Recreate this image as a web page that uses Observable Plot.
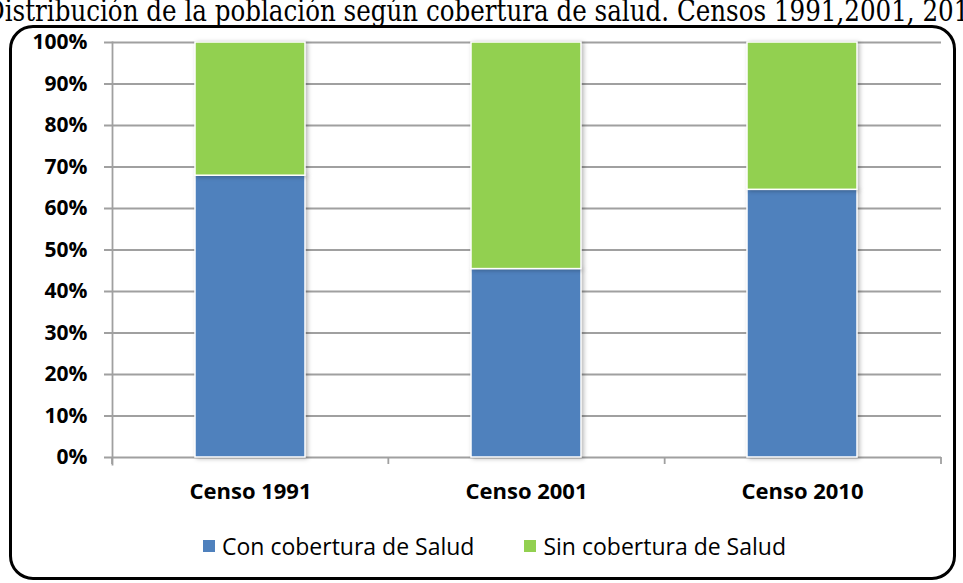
<!DOCTYPE html>
<html>
<head>
<meta charset="utf-8">
<script src="https://cdn.jsdelivr.net/npm/d3@7"></script>
<script src="https://cdn.jsdelivr.net/npm/@observablehq/plot@0.6"></script>
<style>
  html, body { margin: 0; padding: 0; background: #fff; overflow: hidden; }
  #wrap { position: relative; width: 963px; height: 583px; overflow: hidden; background: #fff; }
  #title { position: absolute; left: 0; top: 0; }
  #frame { position: absolute; left: 9px; top: 25px; width: 947px; height: 555px; box-sizing: border-box;
           border: 3px solid #000; border-radius: 24px; }
  #chart { position: absolute; left: 0; top: 0; }
  #legend { position: absolute; left: 0; top: 530px; width: 963px; display: flex; justify-content: center;
            font-family: "Open Sans", Lato, sans-serif; font-size: 23px; color: #000; gap: 50px; margin-left: 13px; }
  #legend .item { display: flex; align-items: center; }
  #legend .sw { width: 12px; height: 12px; margin-right: 7px; }
  .bars rect { filter: drop-shadow(2px 1px 2px rgba(0,0,0,0.28)); }
</style>
</head>
<body>
<div id="wrap">
  <svg id="title" width="963" height="32">
    <text id="titleText" x="-15" y="21" font-family="'DejaVu Serif', 'Liberation Serif', serif" font-size="29" fill="#000"
      textLength="1000" lengthAdjust="spacingAndGlyphs"></text>
  </svg>
  <div id="frame"></div>
  <div id="chart"></div>
  <div id="legend"></div>
</div>
<script>
const titleLabel = "Distribución de la población según cobertura de salud. Censos 1991,2001, 2010";
const censos = ["Censo 1991", "Censo 2001", "Censo 2010"];
const series = ["Con cobertura de Salud", "Sin cobertura de Salud"];
const conCobertura = [67.9, 45.4, 64.5];
const sinCobertura = [32.1, 54.6, 35.5];
const colors = ["#4F81BD", "#92D050"];
const yTicks = [0, 10, 20, 30, 40, 50, 60, 70, 80, 90, 100];

document.getElementById("titleText").textContent = titleLabel;

const data = [];
censos.forEach((c, i) => {
  data.push({censo: c, serie: series[0], value: conCobertura[i]});
  data.push({censo: c, serie: series[1], value: sinCobertura[i]});
});

const grid = "#a0a0a0";
const W = 963, H = 510, ML = 112, MR = 22, MT = 42, MB = 53;

const chart = Plot.plot({
  width: W,
  height: H,
  marginLeft: ML,
  marginRight: MR,
  marginTop: MT,
  marginBottom: MB,
  style: {background: "transparent", fontFamily: "'Open Sans', Lato, sans-serif", color: "#000", overflow: "visible"},
  x: {domain: censos, paddingInner: 0.6, paddingOuter: 0.3, label: null},
  y: {domain: [0, 100], label: null},
  color: {domain: series, range: colors},
  marks: [
    Plot.ruleY(yTicks, {y: d => d, stroke: grid, strokeWidth: 1.8, insetLeft: -8}),
    Plot.frame({anchor: "left", stroke: grid, strokeWidth: 1.8, insetBottom: -7}),
    // tick marks at category boundaries below the 0% line
    () => {
      const g = d3.create("svg:g");
      const step = (W - ML - MR) / censos.length;
      for (let i = 0; i <= censos.length; i++) {
        const x = ML + i * step;
        g.append("line").attr("x1", x).attr("x2", x).attr("y1", H - MB).attr("y2", H - MB + 7)
          .attr("stroke", grid).attr("stroke-width", 1.8);
      }
      return g.node();
    },
    Plot.barY(data, {x: "censo", y: "value", fill: "serie", order: series, stroke: "#fff", strokeWidth: 1.5, className: "bars"}),
    Plot.axisY(yTicks, {tickSize: 0, tickPadding: 25, tickFormat: d => d + "%", fontSize: 21, fontWeight: "bold"}),
    Plot.axisX({tickSize: 0, tickPadding: 26, fontSize: 22, fontWeight: "bold"})
  ]
});
document.getElementById("chart").appendChild(chart);

const legend = document.getElementById("legend");
series.forEach((s, i) => {
  const item = document.createElement("div");
  item.className = "item";
  const sw = document.createElement("div");
  sw.className = "sw";
  sw.style.background = colors[i];
  const label = document.createElement("span");
  label.textContent = s;
  item.appendChild(sw);
  item.appendChild(label);
  legend.appendChild(item);
});
</script>
</body>
</html>
